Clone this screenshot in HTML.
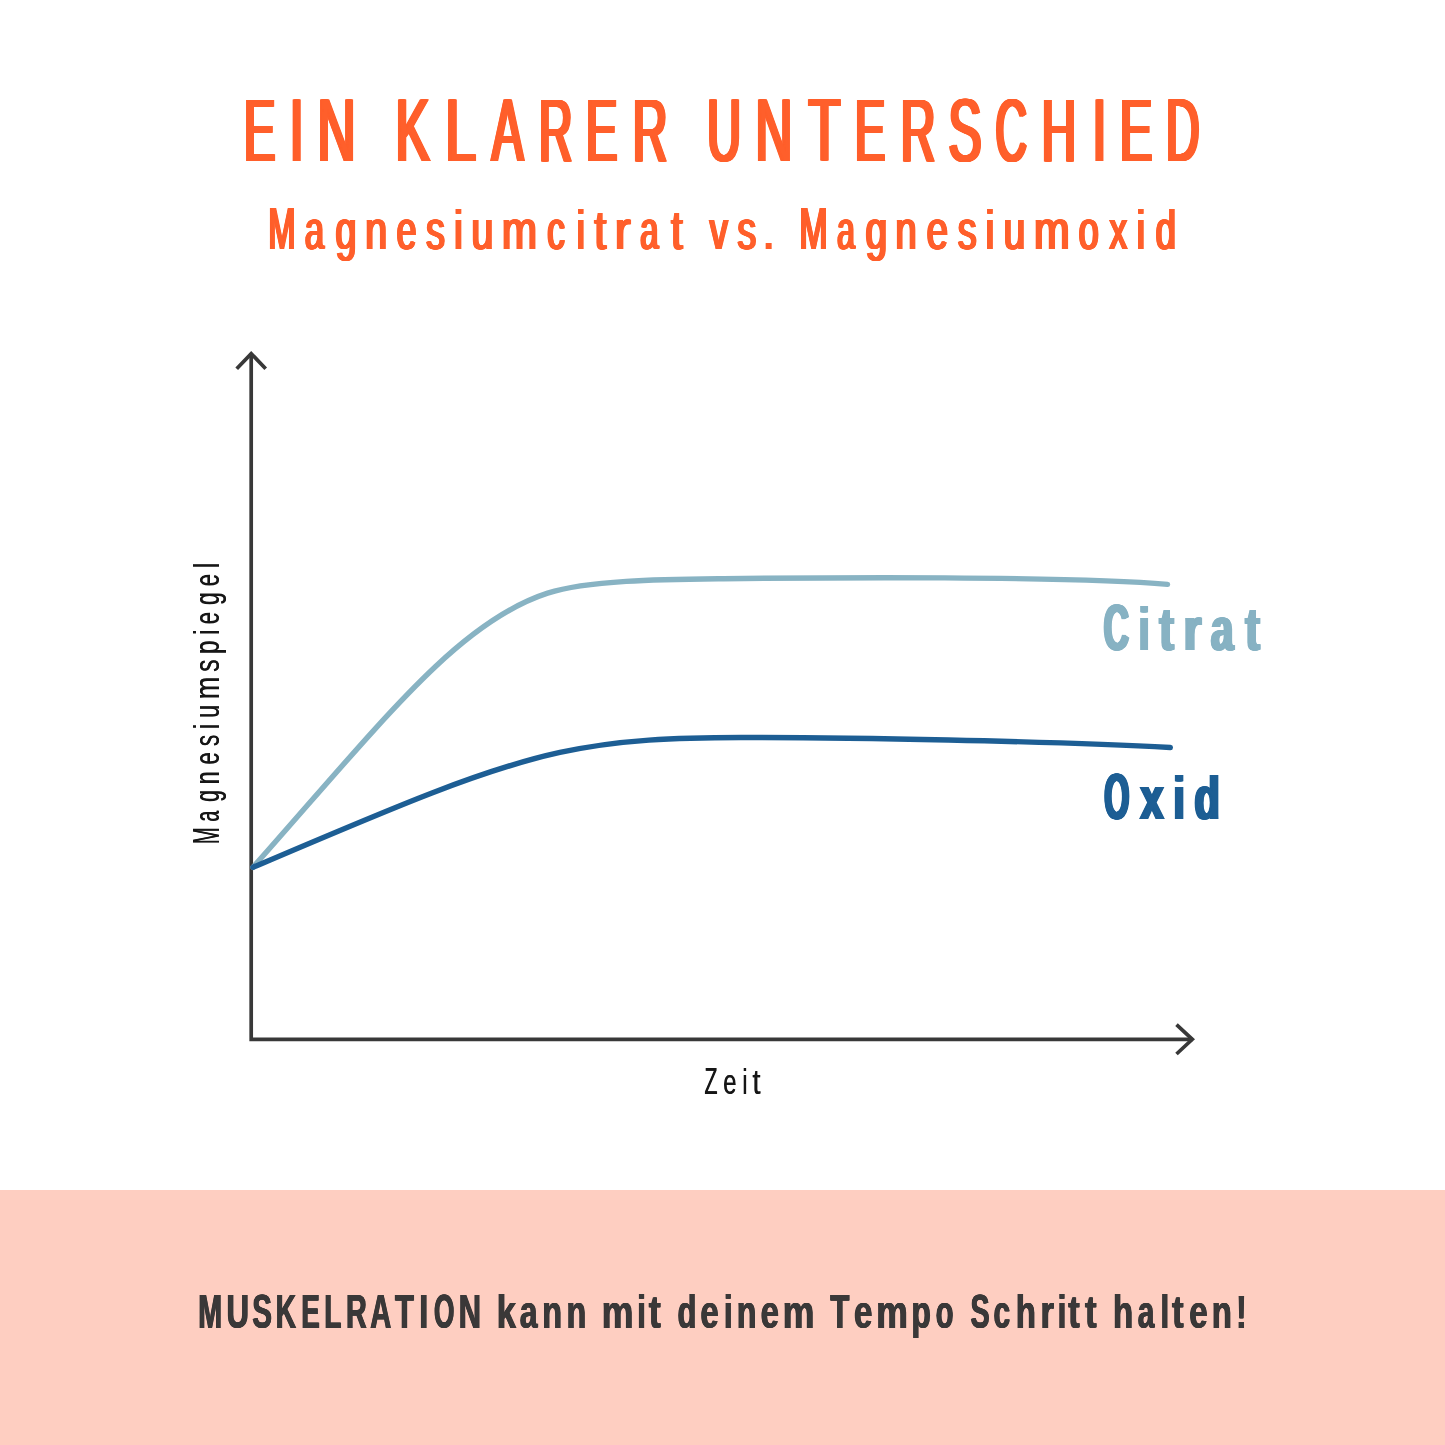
<!DOCTYPE html>
<html lang="de"><head><meta charset="utf-8"><title>Ein klarer Unterschied</title>
<style>html,body{margin:0;padding:0;background:#fff;}body{width:1445px;height:1445px;overflow:hidden;font-family:"Liberation Sans",sans-serif;}</style>
</head><body>
<svg width="1445" height="1445" viewBox="0 0 1445 1445" style="display:block;will-change:transform">
<rect x="0" y="1190" width="1445" height="255" fill="#FECEC1"/>
<g fill="none" stroke="#383838" stroke-width="3.7">
<path d="M251.2,353.5 V1039.3 H1192.5" stroke-linejoin="miter"/>
<path d="M236.7,368.8 L251.2,353.6 L265.7,368.8" stroke-linejoin="miter"/>
<path d="M1176.5,1024.6 L1192.3,1039.3 L1176.5,1054" stroke-linejoin="miter"/>
</g>
<path d="M253.00,867.30 C383.22,720.53 457.98,622.11 547.64,593.15 C588.69,579.89 664.24,579.40 723.40,578.72 C817.81,577.63 1071.10,575.74 1167.50,584.40" fill="none" stroke="#88B3C3" stroke-width="5.4" stroke-linecap="round" stroke-linejoin="round"/>
<path d="M253.00,867.30 C393.11,807.53 482.11,769.32 559.93,752.44 C619.45,739.53 677.38,737.47 740.92,737.47 C838.48,737.47 1053.43,740.95 1170.30,747.50" fill="none" stroke="#1D5E94" stroke-width="5.4" stroke-linecap="round" stroke-linejoin="round"/>
<g font-family="'Liberation Sans', sans-serif">
<g transform="translate(0,160.60)" fill="#FF5F2B">
<text id="t1" x="242.14 288.37 315.67 316.67 393.78 443.44 489.91 537.20 584.14 631.06 632.06 705.40 753.81 806.83 853.29 899.06 946.75 993.79 1040.11 1091.12 1117.99 1164.19" y="0" font-weight="normal"><tspan font-size="88.08" textLength="31.38" lengthAdjust="spacingAndGlyphs">E</tspan><tspan font-size="88.08" textLength="13.27" lengthAdjust="spacingAndGlyphs">I</tspan><tspan font-size="88.08" textLength="38.14" lengthAdjust="spacingAndGlyphs">N</tspan> <tspan font-size="88.08" textLength="34.30" lengthAdjust="spacingAndGlyphs">K</tspan><tspan font-size="88.08" textLength="30.90" lengthAdjust="spacingAndGlyphs">L</tspan><tspan font-size="88.08" textLength="31.69" lengthAdjust="spacingAndGlyphs">A</tspan><tspan font-size="88.08" textLength="33.45" lengthAdjust="spacingAndGlyphs">R</tspan><tspan font-size="88.08" textLength="31.38" lengthAdjust="spacingAndGlyphs">E</tspan><tspan font-size="88.08" textLength="34.66" lengthAdjust="spacingAndGlyphs">R</tspan> <tspan font-size="88.08" textLength="33.70" lengthAdjust="spacingAndGlyphs">U</tspan><tspan font-size="88.08" textLength="36.85" lengthAdjust="spacingAndGlyphs">N</tspan><tspan font-size="88.08" textLength="31.87" lengthAdjust="spacingAndGlyphs">T</tspan><tspan font-size="88.08" textLength="30.15" lengthAdjust="spacingAndGlyphs">E</tspan><tspan font-size="88.08" textLength="34.66" lengthAdjust="spacingAndGlyphs">R</tspan><tspan font-size="88.08" textLength="33.02" lengthAdjust="spacingAndGlyphs">S</tspan><tspan font-size="88.08" textLength="31.36" lengthAdjust="spacingAndGlyphs">C</tspan><tspan font-size="88.08" textLength="34.26" lengthAdjust="spacingAndGlyphs">H</tspan><tspan font-size="88.08" textLength="13.27" lengthAdjust="spacingAndGlyphs">I</tspan><tspan font-size="88.08" textLength="32.61" lengthAdjust="spacingAndGlyphs">E</tspan><tspan font-size="88.08" textLength="33.53" lengthAdjust="spacingAndGlyphs">D</tspan></text>
<use href="#t1" x="0.438"/>
<use href="#t1" x="0.875"/>
<use href="#t1" x="1.312"/>
<use href="#t1" x="1.750"/>
<use href="#t1" x="2.188"/>
<use href="#t1" x="2.625"/>
<use href="#t1" x="3.062"/>
<use href="#t1" x="3.500"/>
</g>
<g transform="translate(0,249.00)" fill="#FF5F2B">
<text id="t2" x="267.13 303.63 334.30 364.07 395.49 424.95 453.08 470.13 500.69 546.00 575.43 593.37 613.39 639.11 670.08 671.08 708.38 736.25 762.28 763.28 798.22 835.94 864.37 894.15 925.57 956.65 984.58 1002.48 1032.86 1077.48 1108.20 1135.48 1154.47" y="0" font-weight="normal"><tspan font-size="59.16" textLength="27.15" lengthAdjust="spacingAndGlyphs">M</tspan><tspan font-size="56.20" textLength="19.27" lengthAdjust="spacingAndGlyphs">a</tspan><tspan font-size="56.20" textLength="21.15" lengthAdjust="spacingAndGlyphs">g</tspan><tspan font-size="56.20" textLength="21.99" lengthAdjust="spacingAndGlyphs">n</tspan><tspan font-size="56.20" textLength="19.79" lengthAdjust="spacingAndGlyphs">e</tspan><tspan font-size="56.20" textLength="18.81" lengthAdjust="spacingAndGlyphs">s</tspan><tspan font-size="56.20" textLength="8.36" lengthAdjust="spacingAndGlyphs">i</tspan><tspan font-size="56.20" textLength="21.99" lengthAdjust="spacingAndGlyphs">u</tspan><tspan font-size="56.20" textLength="35.19" lengthAdjust="spacingAndGlyphs">m</tspan><tspan font-size="56.20" textLength="17.63" lengthAdjust="spacingAndGlyphs">c</tspan><tspan font-size="56.20" textLength="8.36" lengthAdjust="spacingAndGlyphs">i</tspan><tspan font-size="56.20" textLength="11.64" lengthAdjust="spacingAndGlyphs">t</tspan><tspan font-size="56.20" textLength="16.12" lengthAdjust="spacingAndGlyphs">r</tspan><tspan font-size="56.20" textLength="18.19" lengthAdjust="spacingAndGlyphs">a</tspan><tspan font-size="56.20" textLength="11.31" lengthAdjust="spacingAndGlyphs">t</tspan> <tspan font-size="56.20" textLength="18.25" lengthAdjust="spacingAndGlyphs">v</tspan><tspan font-size="56.20" textLength="18.81" lengthAdjust="spacingAndGlyphs">s</tspan><tspan font-size="56.20" textLength="10.45" lengthAdjust="spacingAndGlyphs">.</tspan> <tspan font-size="59.16" textLength="28.27" lengthAdjust="spacingAndGlyphs">M</tspan><tspan font-size="56.20" textLength="17.76" lengthAdjust="spacingAndGlyphs">a</tspan><tspan font-size="56.20" textLength="21.64" lengthAdjust="spacingAndGlyphs">g</tspan><tspan font-size="56.20" textLength="21.34" lengthAdjust="spacingAndGlyphs">n</tspan><tspan font-size="56.20" textLength="21.33" lengthAdjust="spacingAndGlyphs">e</tspan><tspan font-size="56.20" textLength="18.81" lengthAdjust="spacingAndGlyphs">s</tspan><tspan font-size="56.20" textLength="8.36" lengthAdjust="spacingAndGlyphs">i</tspan><tspan font-size="56.20" textLength="21.60" lengthAdjust="spacingAndGlyphs">u</tspan><tspan font-size="56.20" textLength="35.67" lengthAdjust="spacingAndGlyphs">m</tspan><tspan font-size="56.20" textLength="20.14" lengthAdjust="spacingAndGlyphs">o</tspan><tspan font-size="56.20" textLength="17.89" lengthAdjust="spacingAndGlyphs">x</tspan><tspan font-size="56.20" textLength="8.36" lengthAdjust="spacingAndGlyphs">i</tspan><tspan font-size="56.20" textLength="20.28" lengthAdjust="spacingAndGlyphs">d</tspan></text>
<use href="#t2" x="0.383"/>
<use href="#t2" x="0.767"/>
<use href="#t2" x="1.150"/>
<use href="#t2" x="1.533"/>
<use href="#t2" x="1.917"/>
<use href="#t2" x="2.300"/>
</g>
<g transform="translate(0,649.60)" fill="#87B2C3">
<text id="t3" x="1102.28 1137.69 1157.97 1182.33 1209.62 1243.97" y="0" font-weight="bold"><tspan font-size="64.97" textLength="25.07" lengthAdjust="spacingAndGlyphs">C</tspan><tspan font-size="61.72" textLength="10.16" lengthAdjust="spacingAndGlyphs">i</tspan><tspan font-size="61.72" textLength="14.35" lengthAdjust="spacingAndGlyphs">t</tspan><tspan font-size="61.72" textLength="17.56" lengthAdjust="spacingAndGlyphs">r</tspan><tspan font-size="61.72" textLength="22.32" lengthAdjust="spacingAndGlyphs">a</tspan><tspan font-size="61.72" textLength="14.35" lengthAdjust="spacingAndGlyphs">t</tspan></text>
<use href="#t3" x="0.414"/>
<use href="#t3" x="0.829"/>
<use href="#t3" x="1.243"/>
<use href="#t3" x="1.657"/>
<use href="#t3" x="2.071"/>
<use href="#t3" x="2.486"/>
<use href="#t3" x="2.900"/>
</g>
<g transform="translate(0,818.60)" fill="#1D5E94">
<text id="t4" x="1102.88 1138.81 1171.94 1193.11" y="0" font-weight="bold"><tspan font-size="64.97" textLength="24.96" lengthAdjust="spacingAndGlyphs">O</tspan><tspan font-size="61.72" textLength="23.40" lengthAdjust="spacingAndGlyphs">x</tspan><tspan font-size="61.72" textLength="11.47" lengthAdjust="spacingAndGlyphs">i</tspan><tspan font-size="61.72" textLength="25.21" lengthAdjust="spacingAndGlyphs">d</tspan></text>
<use href="#t4" x="0.414"/>
<use href="#t4" x="0.829"/>
<use href="#t4" x="1.243"/>
<use href="#t4" x="1.657"/>
<use href="#t4" x="2.071"/>
<use href="#t4" x="2.486"/>
<use href="#t4" x="2.900"/>
</g>
<g transform="translate(0,1093.80)" fill="#161616">
<text id="t5" x="704.33 723.09 742.19 752.15" y="0" font-weight="normal"><tspan font-size="37.21" textLength="12.99" lengthAdjust="spacingAndGlyphs">Z</tspan><tspan font-size="35.35" textLength="13.22" lengthAdjust="spacingAndGlyphs">e</tspan><tspan font-size="35.35" textLength="4.88" lengthAdjust="spacingAndGlyphs">i</tspan><tspan font-size="35.35" textLength="8.21" lengthAdjust="spacingAndGlyphs">t</tspan></text>
<use href="#t5" x="0.450"/>
</g>
<g transform="translate(218.70,0) rotate(-90)" fill="#161616">
<text id="t6" x="-844.36 -821.71 -802.07 -784.54 -764.74 -746.34 -729.20 -718.12 -699.50 -672.09 -654.16 -635.00 -624.53 -605.26 -586.54 -568.21" y="0" font-weight="normal"><tspan font-size="36.92" textLength="16.87" lengthAdjust="spacingAndGlyphs">M</tspan><tspan font-size="35.07" textLength="10.66" lengthAdjust="spacingAndGlyphs">a</tspan><tspan font-size="35.07" textLength="11.56" lengthAdjust="spacingAndGlyphs">g</tspan><tspan font-size="35.07" textLength="12.90" lengthAdjust="spacingAndGlyphs">n</tspan><tspan font-size="35.07" textLength="12.27" lengthAdjust="spacingAndGlyphs">e</tspan><tspan font-size="35.07" textLength="11.41" lengthAdjust="spacingAndGlyphs">s</tspan><tspan font-size="35.07" textLength="5.06" lengthAdjust="spacingAndGlyphs">i</tspan><tspan font-size="35.07" textLength="13.03" lengthAdjust="spacingAndGlyphs">u</tspan><tspan font-size="35.07" textLength="22.53" lengthAdjust="spacingAndGlyphs">m</tspan><tspan font-size="35.07" textLength="12.44" lengthAdjust="spacingAndGlyphs">s</tspan><tspan font-size="35.07" textLength="13.42" lengthAdjust="spacingAndGlyphs">p</tspan><tspan font-size="35.07" textLength="5.06" lengthAdjust="spacingAndGlyphs">i</tspan><tspan font-size="35.07" textLength="12.15" lengthAdjust="spacingAndGlyphs">e</tspan><tspan font-size="35.07" textLength="12.68" lengthAdjust="spacingAndGlyphs">g</tspan><tspan font-size="35.07" textLength="12.27" lengthAdjust="spacingAndGlyphs">e</tspan><tspan font-size="35.07" textLength="5.06" lengthAdjust="spacingAndGlyphs">l</tspan></text>
<use href="#t6" x="0.450"/>
</g>
<g transform="translate(0,1328.40)" fill="#3A3838">
<text id="t7" x="197.79 226.03 251.85 275.22 300.84 323.82 345.58 369.78 394.55 418.67 433.53 458.13 459.13 496.18 519.37 541.66 566.07 567.07 601.14 636.76 648.36 649.36 677.03 700.03 723.41 736.37 760.23 782.25 783.25 829.85 853.61 875.75 910.91 935.16 936.16 969.97 993.03 1015.30 1039.91 1057.16 1067.78 1084.58 1085.58 1112.60 1137.33 1160.06 1171.58 1188.81 1211.33 1235.76" y="0" font-weight="bold"><tspan font-size="48.55" textLength="23.83" lengthAdjust="spacingAndGlyphs">M</tspan><tspan font-size="48.55" textLength="22.47" lengthAdjust="spacingAndGlyphs">U</tspan><tspan font-size="48.55" textLength="19.71" lengthAdjust="spacingAndGlyphs">S</tspan><tspan font-size="48.55" textLength="20.35" lengthAdjust="spacingAndGlyphs">K</tspan><tspan font-size="48.55" textLength="18.55" lengthAdjust="spacingAndGlyphs">E</tspan><tspan font-size="48.55" textLength="17.14" lengthAdjust="spacingAndGlyphs">L</tspan><tspan font-size="48.55" textLength="20.71" lengthAdjust="spacingAndGlyphs">R</tspan><tspan font-size="48.55" textLength="20.99" lengthAdjust="spacingAndGlyphs">A</tspan><tspan font-size="48.55" textLength="18.88" lengthAdjust="spacingAndGlyphs">T</tspan><tspan font-size="48.55" textLength="9.05" lengthAdjust="spacingAndGlyphs">I</tspan><tspan font-size="48.55" textLength="20.37" lengthAdjust="spacingAndGlyphs">O</tspan><tspan font-size="48.55" textLength="22.36" lengthAdjust="spacingAndGlyphs">N</tspan> <tspan font-size="46.12" textLength="19.29" lengthAdjust="spacingAndGlyphs">k</tspan><tspan font-size="46.12" textLength="17.73" lengthAdjust="spacingAndGlyphs">a</tspan><tspan font-size="46.12" textLength="19.86" lengthAdjust="spacingAndGlyphs">n</tspan><tspan font-size="46.12" textLength="19.73" lengthAdjust="spacingAndGlyphs">n</tspan> <tspan font-size="46.12" textLength="31.77" lengthAdjust="spacingAndGlyphs">m</tspan><tspan font-size="46.12" textLength="8.60" lengthAdjust="spacingAndGlyphs">i</tspan><tspan font-size="46.12" textLength="11.98" lengthAdjust="spacingAndGlyphs">t</tspan> <tspan font-size="46.12" textLength="18.91" lengthAdjust="spacingAndGlyphs">d</tspan><tspan font-size="46.12" textLength="18.08" lengthAdjust="spacingAndGlyphs">e</tspan><tspan font-size="46.12" textLength="8.60" lengthAdjust="spacingAndGlyphs">i</tspan><tspan font-size="46.12" textLength="19.73" lengthAdjust="spacingAndGlyphs">n</tspan><tspan font-size="46.12" textLength="18.08" lengthAdjust="spacingAndGlyphs">e</tspan><tspan font-size="46.12" textLength="31.65" lengthAdjust="spacingAndGlyphs">m</tspan> <tspan font-size="48.55" textLength="19.09" lengthAdjust="spacingAndGlyphs">T</tspan><tspan font-size="46.12" textLength="18.31" lengthAdjust="spacingAndGlyphs">e</tspan><tspan font-size="46.12" textLength="31.65" lengthAdjust="spacingAndGlyphs">m</tspan><tspan font-size="46.12" textLength="19.40" lengthAdjust="spacingAndGlyphs">p</tspan><tspan font-size="46.12" textLength="17.77" lengthAdjust="spacingAndGlyphs">o</tspan> <tspan font-size="48.55" textLength="19.15" lengthAdjust="spacingAndGlyphs">S</tspan><tspan font-size="46.12" textLength="16.65" lengthAdjust="spacingAndGlyphs">c</tspan><tspan font-size="46.12" textLength="20.15" lengthAdjust="spacingAndGlyphs">h</tspan><tspan font-size="46.12" textLength="13.51" lengthAdjust="spacingAndGlyphs">r</tspan><tspan font-size="46.12" textLength="8.60" lengthAdjust="spacingAndGlyphs">i</tspan><tspan font-size="46.12" textLength="11.44" lengthAdjust="spacingAndGlyphs">t</tspan><tspan font-size="46.12" textLength="11.55" lengthAdjust="spacingAndGlyphs">t</tspan> <tspan font-size="46.12" textLength="20.15" lengthAdjust="spacingAndGlyphs">h</tspan><tspan font-size="46.12" textLength="16.58" lengthAdjust="spacingAndGlyphs">a</tspan><tspan font-size="46.12" textLength="8.60" lengthAdjust="spacingAndGlyphs">l</tspan><tspan font-size="46.12" textLength="11.55" lengthAdjust="spacingAndGlyphs">t</tspan><tspan font-size="46.12" textLength="18.31" lengthAdjust="spacingAndGlyphs">e</tspan><tspan font-size="46.12" textLength="20.11" lengthAdjust="spacingAndGlyphs">n</tspan><tspan font-size="46.12" textLength="10.31" lengthAdjust="spacingAndGlyphs">!</tspan></text>
<use href="#t7" x="0.333"/>
<use href="#t7" x="0.667"/>
<use href="#t7" x="1.000"/>
</g>
</g>
</svg>
</body></html>
